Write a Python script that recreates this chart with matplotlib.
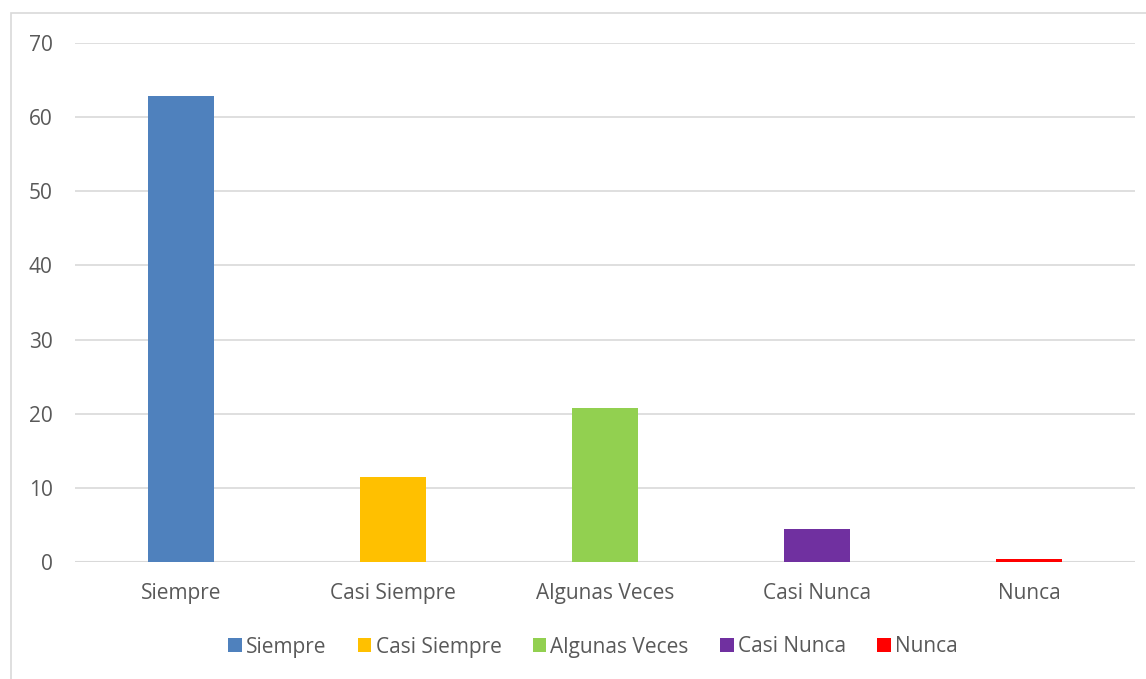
import matplotlib
matplotlib.use("Agg")
import matplotlib.pyplot as plt
from matplotlib.patches import Rectangle, Patch

categories = ["Siempre", "Casi Siempre", "Algunas Veces", "Casi Nunca", "Nunca"]
values = [62.8, 11.4, 20.8, 4.4, 0.4]
colors = ["#4F81BD", "#FFC000", "#92D050", "#7030A0", "#FF0000"]
yticks = [0, 10, 20, 30, 40, 50, 60, 70]

plt.rcParams['font.family'] = ['Open Sans', 'DejaVu Sans']
W, H = 1146, 679
fig = plt.figure(figsize=(W/100, H/100), dpi=100)
fig.patches.append(Rectangle((11/W, -0.01), 1.2, (H-13)/H + 0.01, transform=fig.transFigure,
                             fill=False, edgecolor="#D9D9D9", linewidth=1.2))
ax = fig.add_axes([75/W, 1-562/H, (1135-75)/W, (562-43)/H])
x = list(range(len(categories)))
ax.bar(x, values, width=0.316, color=colors, zorder=3)
ax.set_xlim(-0.5, 4.5)
ax.set_ylim(0, 70)
ax.set_yticks(yticks)
ax.set_xticks(x)
ax.set_xticklabels(categories)
ax.grid(axis='y', color="#D9D9D9", linewidth=1.2, zorder=0)
for s in ax.spines.values():
    s.set_visible(False)
ax.axhline(0, color="#D9D9D9", linewidth=1.5, zorder=2)
ax.tick_params(axis='both', length=0, labelsize=15, labelcolor="#595959")
ax.tick_params(axis='y', pad=16)
ax.tick_params(axis='x', pad=15)
handles = [Patch(facecolor=c, label=l) for c, l in zip(colors, categories)]
fig.legend(handles=handles, loc='center', bbox_to_anchor=(593/W, 1-647/H), ncol=5,
           frameon=False, fontsize=15, labelcolor="#595959", handlelength=0.65,
           handleheight=0.65, handletextpad=0.2, columnspacing=1.5)
fig.savefig("out.png", dpi=100)
